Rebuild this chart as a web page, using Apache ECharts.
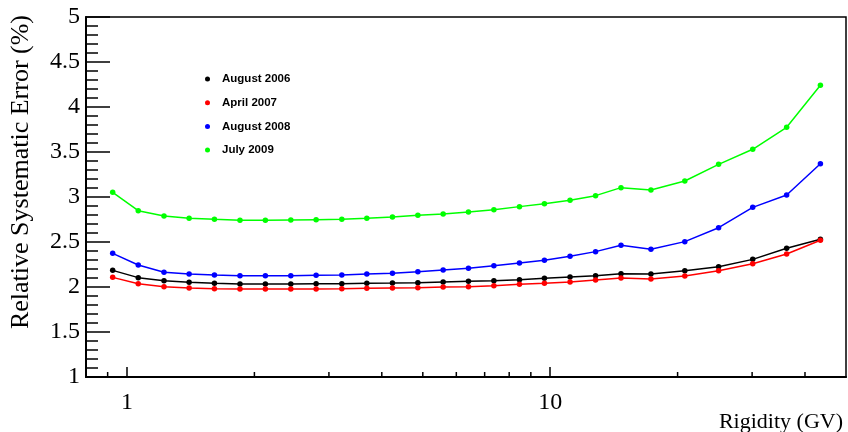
<!DOCTYPE html>
<html>
<head>
<meta charset="utf-8">
<script src="https://cdn.jsdelivr.net/npm/echarts@6/dist/echarts.min.js"></script>
<style>html,body{margin:0;padding:0;background:#fff}#c{width:848px;height:432px}</style>
</head>
<body>
<div id="c"></div>
<script>
var rigidity = [0.925, 1.063, 1.223, 1.402, 1.609, 1.849, 2.123, 2.438, 2.798, 3.218, 3.687, 4.239, 4.867, 5.585, 6.41, 7.36, 8.46, 9.69, 11.14, 12.8, 14.7, 17.3, 20.8, 25.0, 30.1, 36.2, 43.5];
var aug2006 = [2.185, 2.104, 2.070, 2.052, 2.041, 2.033, 2.033, 2.033, 2.037, 2.037, 2.041, 2.044, 2.048, 2.056, 2.063, 2.070, 2.081, 2.096, 2.111, 2.126, 2.148, 2.144, 2.181, 2.226, 2.307, 2.430, 2.530];
var apr2007 = [2.107, 2.037, 2.004, 1.989, 1.981, 1.978, 1.978, 1.978, 1.978, 1.981, 1.985, 1.989, 1.993, 2.000, 2.004, 2.015, 2.030, 2.041, 2.056, 2.078, 2.100, 2.089, 2.122, 2.181, 2.259, 2.367, 2.520];
var aug2008 = [2.374, 2.244, 2.163, 2.144, 2.133, 2.126, 2.126, 2.126, 2.130, 2.133, 2.144, 2.152, 2.170, 2.189, 2.207, 2.237, 2.267, 2.296, 2.341, 2.393, 2.463, 2.419, 2.504, 2.659, 2.885, 3.022, 3.370];
var jul2009 = [3.052, 2.848, 2.789, 2.763, 2.752, 2.741, 2.741, 2.744, 2.748, 2.752, 2.763, 2.778, 2.796, 2.811, 2.833, 2.859, 2.893, 2.926, 2.963, 3.015, 3.104, 3.078, 3.178, 3.363, 3.530, 3.774, 4.241];
var seriesNames = ['August 2006', 'April 2007', 'August 2008', 'July 2009'];
var seriesColors = ['#000000', '#ff0000', '#0000ff', '#00ff00'];
var xMinorTicks = [0.9, 2, 3, 4, 5, 6, 7, 8, 9, 20, 30, 40];

function pairs(ys) { return rigidity.map(function (x, i) { return [x, ys[i]]; }); }
var allValues = [aug2006, apr2007, aug2008, jul2009];

var series = allValues.map(function (vals, k) {
  return {
    name: seriesNames[k], type: 'line', data: pairs(vals),
    symbol: 'circle', symbolSize: 5.5, showSymbol: true,
    lineStyle: { color: seriesColors[k], width: 1.5 },
    itemStyle: { color: seriesColors[k] },
    z: 3 + k, animation: false
  };
});
series.push({
  type: 'custom', silent: true, animation: false, z: 10,
  data: xMinorTicks.map(function (v) { return [v, 1]; }),
  renderItem: function (params, api) {
    var p = api.coord([api.value(0), api.value(1)]);
    return { type: 'line', shape: { x1: p[0], y1: p[1], x2: p[0], y2: p[1] - 5 }, style: { stroke: '#000', lineWidth: 1.5 } };
  }
});

var chart = echarts.init(document.getElementById('c'), null, { renderer: 'canvas' });
chart.setOption({
  animation: false,
  backgroundColor: '#fff',
  grid: { left: 86, top: 17, width: 760, height: 360, show: true, borderColor: '#000', borderWidth: 1.5, backgroundColor: 'transparent' },
  legend: {
    data: seriesNames, orient: 'vertical', left: 200, top: 68, padding: 5,
    icon: 'circle', itemWidth: 5, itemHeight: 5, itemGap: 11.7,
    textStyle: { fontFamily: 'Liberation Sans', fontWeight: 'bold', fontSize: 11.5, color: '#000', lineHeight: 12, padding: [0, 0, 0, 7] },
    selectedMode: false
  },
  xAxis: {
    type: 'log', logBase: 10, min: 0.8, max: 50,
    axisLine: { show: true, lineStyle: { color: '#000', width: 2 } },
    axisTick: { show: true, inside: true, length: 10, lineStyle: { color: '#000', width: 1.5 } },
    axisLabel: { showMinLabel: false, showMaxLabel: false, fontFamily: 'Liberation Serif', fontSize: 24, color: '#000', margin: 14 },
    splitLine: { show: false }, minorTick: { show: false }
  },
  yAxis: {
    type: 'value', min: 1, max: 5, interval: 0.5,
    axisLine: { show: true, lineStyle: { color: '#000', width: 2 } },
    axisTick: { show: true, inside: true, length: 24, lineStyle: { color: '#000', width: 1.5 } },
    minorTick: { show: true, splitNumber: 5, length: 12, lineStyle: { color: '#000', width: 1.5 } },
    axisLabel: { fontFamily: 'Liberation Serif', fontSize: 24, color: '#000', margin: 6 },
    splitLine: { show: false }
  },
  graphic: [
    { type: 'text', x: 21, y: 172, rotation: Math.PI / 2,
      style: { text: 'Relative Systematic Error (%)', font: '26px "Liberation Serif"', fill: '#000', textAlign: 'center', textVerticalAlign: 'middle' } },
    { type: 'text', x: 843, y: 422,
      style: { text: 'Rigidity (GV)', font: '22px "Liberation Serif"', fill: '#000', textAlign: 'right', textVerticalAlign: 'middle' } }
  ],
  series: series
});
</script>
</body>
</html>
